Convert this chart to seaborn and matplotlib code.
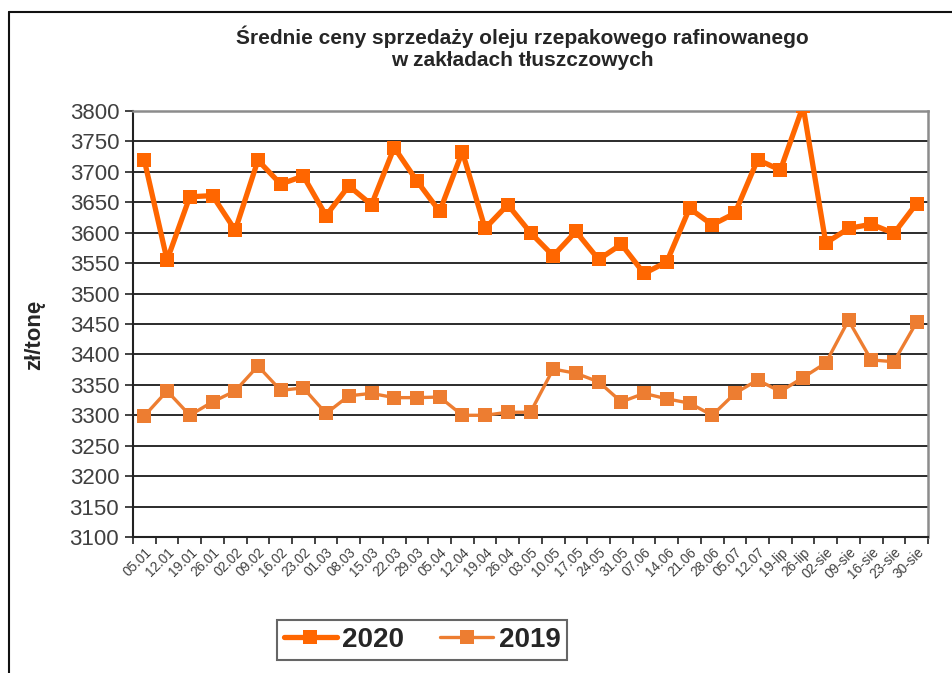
import matplotlib
matplotlib.use("Agg")
import matplotlib.pyplot as plt
import seaborn as sns
import pandas as pd
import numpy as np
from matplotlib.lines import Line2D
from matplotlib.ticker import FixedLocator

categories = ["05.01", "12.01", "19.01", "26.01", "02.02", "09.02", "16.02", "23.02",
              "01.03", "08.03", "15.03", "22.03", "29.03", "05.04", "12.04", "19.04",
              "26.04", "03.05", "10.05", "17.05", "24.05", "31.05", "07.06", "14.06",
              "21.06", "28.06", "05.07", "12.07", "19-lip", "26-lip", "02-sie", "09-sie",
              "16-sie", "23-sie", "30-sie"]

values_2020 = [3719, 3555, 3659, 3661, 3604, 3719, 3680, 3693, 3628, 3677, 3646, 3740,
               3685, 3635, 3733, 3607, 3646, 3600, 3562, 3602, 3556, 3581, 3533, 3552,
               3640, 3613, 3632, 3720, 3703, 3808, 3583, 3607, 3614, 3599, 3648]

values_2019 = [3299, 3340, 3300, 3322, 3340, 3381, 3341, 3345, 3303, 3332, 3336, 3329,
               3329, 3330, 3300, 3300, 3305, 3305, 3376, 3369, 3355, 3322, 3336, 3327,
               3320, 3300, 3336, 3358, 3339, 3362, 3386, 3456, 3391, 3388, 3453]

series_names = ["2020", "2019"]
y_ticks = list(range(3100, 3801, 50))

sns.set_theme(style="white")
plt.rcParams['font.family'] = ['Liberation Sans', 'DejaVu Sans']

df = pd.DataFrame({"kat": categories, "2020": values_2020, "2019": values_2019})
df["pos"] = np.arange(len(categories))

fig = plt.figure(figsize=(9.52, 6.73), dpi=100)
ax = fig.add_axes([133/952, 1-537/673, (928-133)/952, (537-111)/673])

for y in y_ticks[1:-1]:
    ax.axhline(y, color="#1a1a1a", lw=1.3, zorder=1)

c20 = "#FF6600"
c19 = "#ED7D31"
sns.lineplot(data=df, x="pos", y="2019", ax=ax, color=c19, lw=2.4, marker="s",
             markersize=9.5, markeredgewidth=0, zorder=3)
sns.lineplot(data=df, x="pos", y="2020", ax=ax, color=c20, lw=3.8, marker="s",
             markersize=10.5, markeredgewidth=0, zorder=4)

ax.set_xlim(-0.5, len(categories) - 0.5)
ax.set_ylim(3100, 3800)
ax.set_xlabel("")
ax.set_ylabel("zł/tonę", fontsize=16, fontweight="bold", color="#262626")
ax.yaxis.set_label_coords((45-133)/795, (537-335)/426)

ax.xaxis.set_major_locator(FixedLocator(df["pos"].tolist()))
ax.set_xticklabels(categories, rotation=45, ha="right", rotation_mode="anchor",
                   fontsize=9.8, color="#404040")
ax.xaxis.set_minor_locator(FixedLocator(list(np.arange(-0.5, len(categories), 1.0))))
ax.tick_params(axis="x", which="major", length=0, pad=6)
ax.tick_params(axis="x", which="minor", length=5, width=1.2, color="#222222", bottom=True)

ax.set_yticks(y_ticks)
ax.set_yticklabels([str(v) for v in y_ticks], fontsize=16, color="#404040")
ax.tick_params(axis="y", which="major", length=6, width=1.2, color="#222222", left=True, pad=4)

for side in ["left", "bottom"]:
    ax.spines[side].set_color("#222222")
    ax.spines[side].set_linewidth(1.5)
for side in ["top", "right"]:
    ax.spines[side].set_color("#8c8c8c")
    ax.spines[side].set_linewidth(1.8)

fig.text(522/952, 1-37/673, "Średnie ceny sprzedaży oleju rzepakowego rafinowanego",
         ha="center", va="center", fontsize=15, fontweight="bold", color="#262626")
fig.text(522/952, 1-60/673, "w zakładach tłuszczowych",
         ha="center", va="center", fontsize=15, fontweight="bold", color="#262626")

handles = [Line2D([], [], color=c20, lw=3.8, marker="s", markersize=10.5, markeredgewidth=0),
           Line2D([], [], color=c19, lw=2.4, marker="s", markersize=9.5, markeredgewidth=0)]
leg = fig.legend(handles, series_names, loc="center", bbox_to_anchor=(422/952, 1-640/673),
                 ncol=2, frameon=True, fancybox=False,
                 prop={"weight": "bold", "size": 20}, handlelength=1.9, columnspacing=1.3,
                 borderpad=0.25, handletextpad=0.2, borderaxespad=0)
leg.get_frame().set_edgecolor("#404040")
leg.get_frame().set_linewidth(1.5)
for t in leg.get_texts():
    t.set_color("#262626")

# outer chart frame (top and left edges)
fig.add_artist(Line2D([9/952, 1.0], [1-12/673, 1-12/673], transform=fig.transFigure,
                      color="#111111", lw=1.5))
fig.add_artist(Line2D([9/952, 9/952], [0, 1-12/673], transform=fig.transFigure,
                      color="#111111", lw=1.5))

fig.savefig("out.png", dpi=100, facecolor="white")
